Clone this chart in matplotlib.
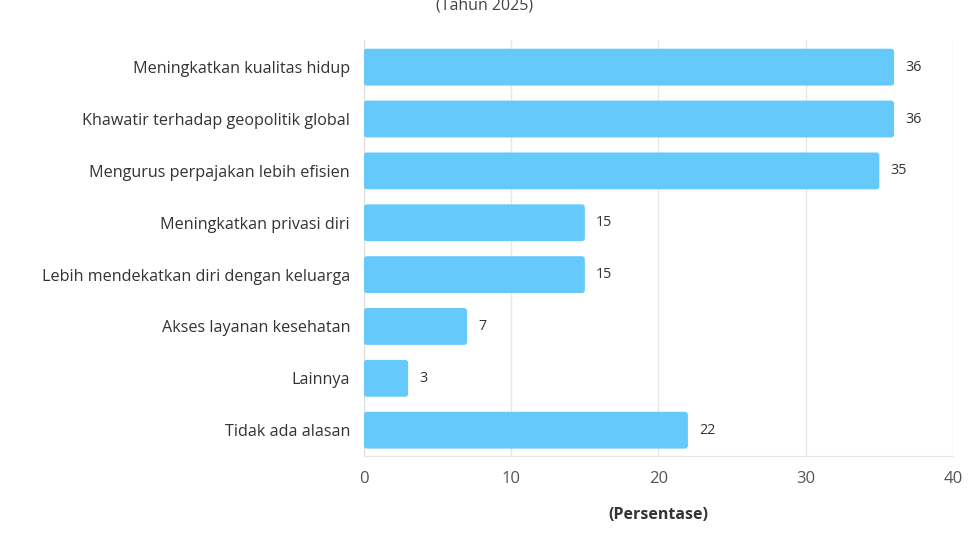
import matplotlib.pyplot as plt
from matplotlib.patches import FancyBboxPatch

# data
categories = [
    "Meningkatkan kualitas hidup",
    "Khawatir terhadap geopolitik global",
    "Mengurus perpajakan lebih efisien",
    "Meningkatkan privasi diri",
    "Lebih mendekatkan diri dengan keluarga",
    "Akses layanan kesehatan",
    "Lainnya",
    "Tidak ada alasan",
]
values = [36, 36, 35, 15, 15, 7, 3, 22]
x_ticks = [0, 10, 20, 30, 40]

plt.rcParams['font.family'] = ['Open Sans', 'DejaVu Sans']

fig = plt.figure(figsize=(9.68, 5.43), dpi=100)
ax = fig.add_axes([0.376, 0.160, 0.6085, 0.766])

ypos = list(range(len(categories)))
bars = ax.barh(ypos, values, height=0.71, color='#66C9FB', zorder=3)

# swap plain bars for slightly rounded ones
aspect = (8.02 / 416) / (40 / 589)
for b in bars:
    b.set_visible(False)
    ax.add_patch(FancyBboxPatch((b.get_x(), b.get_y()), b.get_width(), b.get_height(),
                                boxstyle="round,pad=0,rounding_size=0.2",
                                mutation_aspect=aspect, facecolor='#66C9FB',
                                edgecolor='none', zorder=3))

for y, v in zip(ypos, values):
    ax.text(v + 0.75, y, str(v), va='center', ha='left', fontsize=10.3, color='#333333')

ax.set_ylim(len(categories) - 0.5, -0.52)
ax.set_xlim(0, 40)
ax.set_yticks(ypos)
ax.set_yticklabels(categories, fontsize=11.6, color='#333333')
ax.set_xticks(x_ticks)
ax.set_xticklabels([str(t) for t in x_ticks], fontsize=12, color='#555555')
ax.tick_params(axis='y', length=0, pad=10)
ax.tick_params(axis='x', length=0, pad=11)

ax.grid(axis='x', color='#e6e6e6', linewidth=1, zorder=0)
for side in ['top', 'right']:
    ax.spines[side].set_visible(False)
ax.spines['left'].set_color('#dddddd')
ax.spines['bottom'].set_color('#e6e6e6')

ax.set_xlabel("(Persentase)", fontsize=11.5, fontweight='bold', color='#333333', labelpad=14)

fig.text(0.501, 1 - 6 / 543, "(Tahun 2025)", ha='center', va='center', fontsize=11.5, color='#444444')

fig.savefig("out.png", dpi=100, facecolor='white')
